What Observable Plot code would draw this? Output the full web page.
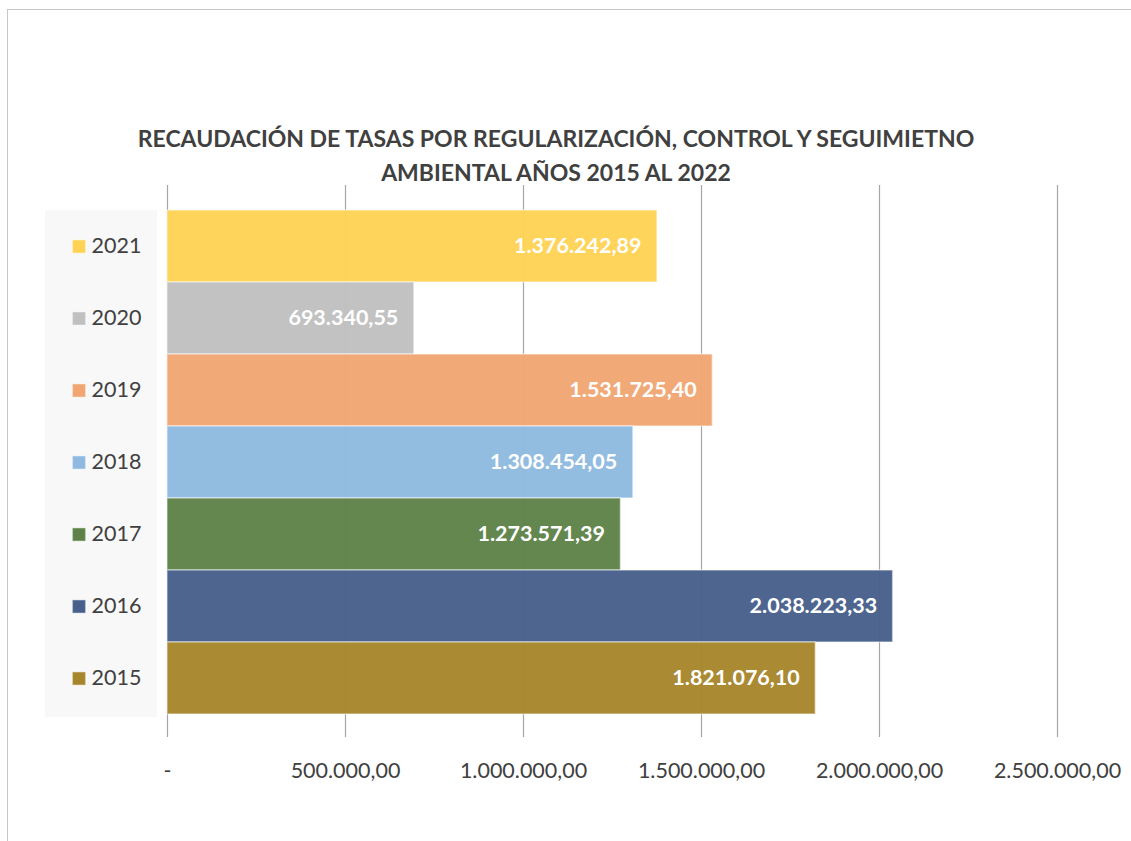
<!DOCTYPE html>
<html><head><meta charset="utf-8">
<script src="https://cdn.jsdelivr.net/npm/d3@7"></script>
<script src="https://cdn.jsdelivr.net/npm/@observablehq/plot@0.6"></script>
<style>
html,body{margin:0;padding:0;background:#fff;}
#wrap{position:relative;width:1131px;height:841px;overflow:hidden;font-family:Lato,"Open Sans",sans-serif;}
#frame{position:absolute;left:7px;top:9px;width:1200px;height:900px;border-top:1.5px solid #c8c8c8;border-left:1.5px solid #c8c8c8;}
#legbg{position:absolute;left:45px;top:210px;width:112px;height:507px;background:#f8f8f8;}
#title{position:absolute;left:0;width:1112px;top:121px;text-align:center;font-weight:bold;font-size:23px;line-height:34px;color:#404040;}
#chart{position:absolute;left:0;top:0;}
</style></head>
<body><div id="wrap"><div id="frame"></div><div id="legbg"></div>
<div id="title">RECAUDACIÓN DE TASAS POR REGULARIZACIÓN, CONTROL Y SEGUIMIETNO<br>AMBIENTAL AÑOS 2015 AL 2022</div>
<div id="chart"></div></div>
<script>
const years = ["2021","2020","2019","2018","2017","2016","2015"];
const values = [1376242.89, 693340.55, 1531725.40, 1308454.05, 1273571.39, 2038223.33, 1821076.10];
const colors = ["#FFD253","#C0C0C0","#F0A572","#8FB9E0","#5E8148","#475F8A","#A7852A"];
const ticks = [0, 500000, 1000000, 1500000, 2000000, 2500000];

const loc = d3.formatLocale({decimal:",", thousands:".", grouping:[3], currency:["",""]});
const fmt = loc.format(",.2f");
const tickFmt = d => d === 0 ? "-" : fmt(d);
const data = years.map((y,i)=>({year:y, value:values[i], color:colors[i]}));

const chart = Plot.plot({
  width:1131, height:841,
  marginLeft:167, marginRight:74, marginTop:210, marginBottom:127,
  style:{background:"transparent", fontFamily:"Lato, 'Open Sans', sans-serif"},
  x:{domain:[0,2500000], ticks:ticks, tickFormat:tickFmt, label:null},
  y:{domain:years, padding:0, axis:null},
  color:{domain:years, range:colors},
  marks:[
    Plot.ruleX(ticks, {x:d=>d, stroke:"#a6a6a6", strokeWidth:1.2, insetTop:-25, insetBottom:-23}),
    Plot.barX(data, {x:"value", y:"year", fill:"year", fillOpacity:0.96, stroke:"#ffffff", strokeOpacity:0.45, strokeWidth:1.5}),
    Plot.text(data, {x:"value", y:"year", text:d=>fmt(d.value), textAnchor:"end", dx:-16, fill:"white", fontWeight:"bold", fontSize:21.5}),
    Plot.dot(data, {x:()=>0, y:"year", dx:-88.5, symbol:"square", r:7.5, fill:"year", stroke:"white", strokeOpacity:0.4}),
    Plot.text(data, {x:()=>0, y:"year", text:"year", dx:-76, textAnchor:"start", fill:"#404040", fontSize:21.5}),
    Plot.axisX({ticks:ticks, tickFormat:tickFmt, tickSize:0, tickPadding:48, fontSize:21.5, color:"#404040", label:null})
  ]
});
document.getElementById("chart").appendChild(chart);
</script></body></html>
